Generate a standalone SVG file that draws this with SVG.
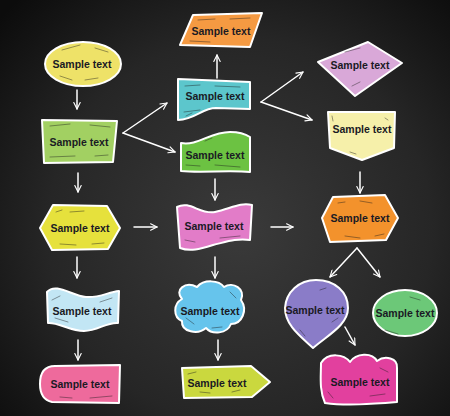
<svg xmlns="http://www.w3.org/2000/svg" width="450" height="416" viewBox="0 0 450 416">
<defs>
<radialGradient id="bg" cx="240" cy="230" r="320" gradientUnits="userSpaceOnUse">
<stop offset="0" stop-color="#3a3a3a"/>
<stop offset="0.6" stop-color="#262626"/>
<stop offset="1" stop-color="#0c0c0c"/>
</radialGradient>
<marker id="ah" viewBox="0 0 10 10" refX="9" refY="5" markerWidth="8" markerHeight="8" markerUnits="userSpaceOnUse" orient="auto">
<path d="M1,1 L9,5 L1,9" fill="none" stroke="#fff" stroke-width="1.4" stroke-linecap="round" stroke-linejoin="round"/>
</marker>
</defs>
<style>
.sh{stroke:#fff;stroke-width:2;stroke-linejoin:round}
.sc{fill:none;stroke:#1c1c1c;stroke-width:0.8;stroke-linecap:round;opacity:0.55}
.tx{font-family:"Liberation Sans",Arial,sans-serif;font-weight:bold;font-size:10.5px;fill:#1a1a24;text-anchor:middle;dominant-baseline:central}
.ar{fill:none;stroke:#fff;stroke-width:1.5;stroke-linecap:round;marker-end:url(#ah)}
</style>
<rect width="450" height="416" fill="url(#bg)"/>

<g id="connectors">
<path class="ar" d="M77,90 L77,109"/>
<path class="ar" d="M78,173 L78,192"/>
<path class="ar" d="M134,227 L157,227"/>
<path class="ar" d="M77,257 L77,278"/>
<path class="ar" d="M78,340 L78,360"/>
<path class="ar" d="M123,133 L167,103"/>
<path class="ar" d="M123,133 L175,152"/>
<path class="ar" d="M217,78 L217,55"/>
<path class="ar" d="M215,179 L215,200"/>
<path class="ar" d="M271,227 L293,227"/>
<path class="ar" d="M215,257 L215,278"/>
<path class="ar" d="M218,340 L218,360"/>
<path class="ar" d="M261,102 L303,72"/>
<path class="ar" d="M261,102 L312,120"/>
<path class="ar" d="M360,172 L360,193"/>
<path class="ar" d="M357,248 L330,277"/>
<path class="ar" d="M357,248 L380,277"/>
<path class="ar" d="M345,327 L355,345"/>
</g>

<g id="n-yellow-oval">
<ellipse class="sh" cx="83" cy="64" rx="38" ry="22" fill="#eee268"/>
<path class="sc" d="M62,50 L80,45 M95,48 L108,52 M60,76 L72,80 M85,80 L98,78"/>
<text class="tx" x="82" y="64">Sample text</text>
</g>

<g id="n-green-rect">
<path class="sh" d="M42,120 L117,121 L113,162 L44,163 Z" fill="#a2d062"/>
<path class="sc" d="M50,126 L70,124 M90,125 L110,127 M50,157 L75,156 M95,156 L108,155"/>
<text class="tx" x="79" y="142">Sample text</text>
</g>

<g id="n-yellow-hex">
<path class="sh" d="M40,228 L53,205 L107,206 L120,228 L108,249 L52,250 Z" fill="#e6e13c"/>
<path class="sc" d="M56,212 L62,210 M70,212 L84,211 M60,244 L76,245 M92,244 L104,243"/>
<text class="tx" x="80" y="228">Sample text</text>
</g>

<g id="n-blue-flag">
<path class="sh" d="M47,292 C56,282 72,296 86,297 C100,298 108,292 119,291 L118,323 C106,322 98,331 84,331 C70,331 58,322 48,323 Z" fill="#c2e6f4"/>
<path class="sc" d="M52,300 L60,296 M100,302 L112,298 M55,318 L68,322"/>
<text class="tx" x="82" y="311">Sample text</text>
</g>

<g id="n-pink-rect">
<path class="sh" d="M55,366 L120,365 L119,403 L52,402 C43,400 40,392 40,384 C40,372 45,366 55,366 Z" fill="#ee6a9c"/>
<path class="sc" d="M60,397 L72,398 M90,398 L112,396"/>
<text class="tx" x="80" y="384">Sample text</text>
</g>

<g id="n-orange-para">
<path class="sh" d="M193,15 L262,13 L250,47 L180,45 Z" fill="#f59a42"/>
<path class="sc" d="M198,20 L215,19 M230,19 L250,18 M190,41 L210,42"/>
<text class="tx" x="221" y="31">Sample text</text>
</g>

<g id="n-teal">
<path class="sh" d="M178,79 L250,82 L250,109 L216,108 C202,108 196,119 178,120 Z" fill="#5cc6cc"/>
<path class="sc" d="M185,86 L200,85 M215,86 L240,87 M184,112 L200,110 M186,116 L192,113"/>
<text class="tx" x="215" y="96">Sample text</text>
</g>

<g id="n-green-wave">
<path class="sh" d="M181,143 C198,146 210,132 230,132 C240,132 247,135 250,137 L250,172 C230,170 200,173 181,171 Z" fill="#6cc242"/>
<path class="sc" d="M186,165 L200,166 M215,165 L240,167 M205,141 L212,138"/>
<text class="tx" x="215" y="155">Sample text</text>
</g>

<g id="n-pink-wave">
<path class="sh" d="M177,207 C190,200 200,215 215,212 C230,209 240,202 252,205 L250,240 C236,238 226,242 213,245 C200,249 190,252 180,248 Z" fill="#e27cc8"/>
<path class="sc" d="M185,240 L195,242 M220,238 L240,236"/>
<text class="tx" x="214" y="226">Sample text</text>
</g>

<g id="n-blue-cloud">
<path class="sh" d="M182,299 C174,290 185,281 197,287 C204,279 219,280 224,287 C233,281 246,289 241,300 C248,310 242,324 231,324 C227,334 212,335 206,328 C198,335 181,332 182,321 C173,317 173,304 182,299 Z" fill="#66c4ec"/>
<path class="sc" d="M186,318 L194,324 M230,292 L236,298 M212,328 L222,327"/>
<text class="tx" x="210" y="311">Sample text</text>
</g>

<g id="n-lime-arrow">
<path class="sh" d="M182,368 L251,366 L270,382 L252,397 L184,398 Z" fill="#cad83e"/>
<path class="sc" d="M188,374 L196,372 M200,392 L210,393 M232,392 L240,390"/>
<text class="tx" x="217" y="383">Sample text</text>
</g>

<g id="n-lilac-diamond">
<path class="sh" d="M318,62 L368,42 L402,63 L355,96 Z" fill="#d9a8d8"/>
<path class="sc" d="M345,52 L360,48 M352,86 L360,82"/>
<text class="tx" x="360" y="65">Sample text</text>
</g>

<g id="n-pale-yellow">
<path class="sh" d="M328,112 L395,112 L394,148 L362,160 L330,148 Z" fill="#f6f0aa"/>
<path class="sc" d="M332,116 L333,121 M385,118 L388,120 M350,152 L356,154"/>
<text class="tx" x="362" y="129">Sample text</text>
</g>

<g id="n-orange-hex">
<path class="sh" d="M322,218 L333,197 L385,195 L398,218 L386,240 L330,242 Z" fill="#f3922c"/>
<path class="sc" d="M338,203 L345,202 M360,201 L372,203 M345,236 L360,238 M375,236 L384,234"/>
<text class="tx" x="360" y="218">Sample text</text>
</g>

<g id="n-purple-balloon">
<path class="sh" d="M313,348 C300,336 285,325 285,308 C286,292 299,280 316,280 C335,280 348,292 348,308 C348,325 328,335 313,348 Z" fill="#8a7cc8"/>
<path class="sc" d="M320,290 L326,288 M300,330 L305,336 M332,322 L338,318"/>
<text class="tx" x="315" y="310">Sample text</text>
</g>

<g id="n-green-oval">
<ellipse class="sh" cx="405" cy="313" rx="32" ry="23" fill="#6cc878"/>
<path class="sc" d="M385,330 L398,334 M410,297 L420,300"/>
<text class="tx" x="405" y="313">Sample text</text>
</g>

<g id="n-magenta-blob">
<path class="sh" d="M321,363 C328,352 344,354 350,362 C356,353 372,352 377,361 C385,355 398,358 397,368 L397,402 C372,404 346,406 325,403 C319,390 321,376 321,363 Z" fill="#e2409e"/>
<path class="sc" d="M328,392 L333,398 M370,396 L385,394 M380,368 L388,372"/>
<text class="tx" x="360" y="382">Sample text</text>
</g>
</svg>
